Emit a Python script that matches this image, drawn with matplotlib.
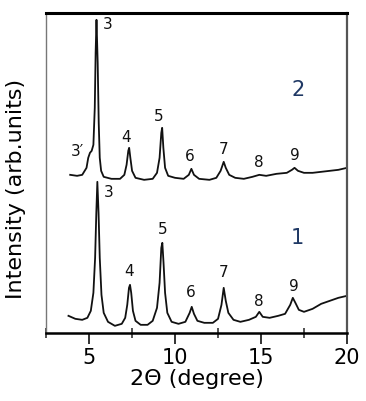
import matplotlib.pyplot as plt
from matplotlib.ticker import MultipleLocator

# sample 1 (lower trace): 2theta (deg) and intensity (arb. units)
x_1 = [3.8, 4.2, 4.6, 4.9, 5.1, 5.25, 5.35, 5.42, 5.48, 5.55, 5.62, 5.72, 5.85, 6.1,
       6.5, 6.9, 7.1, 7.22, 7.32, 7.38, 7.45, 7.55, 7.7, 8.0, 8.4, 8.7, 8.95, 9.1,
       9.2, 9.26, 9.33, 9.42, 9.55, 9.8, 10.2, 10.6, 10.85, 10.97, 11.1, 11.3, 11.7,
       12.2, 12.5, 12.7, 12.83, 12.95, 13.1, 13.4, 13.8, 14.3, 14.7, 14.9, 15.1,
       15.5, 16.0, 16.4, 16.7, 16.85, 17.0, 17.2, 17.5, 18.0, 18.5, 19.0, 19.5, 20.0]
y_1 = [17, 14, 13, 15, 22, 40, 75, 120, 151, 120, 75, 38, 20, 11,
       7, 9, 15, 28, 45, 48, 40, 22, 12, 8, 8, 12, 25, 50,
       85, 90, 70, 40, 20, 11, 9, 11, 20, 26, 19, 12, 10,
       10, 14, 28, 45, 32, 20, 13, 11, 13, 16, 21, 16,
       15, 17, 19, 28, 35, 30, 23, 21, 24, 29, 32, 35, 37]

# sample 2 (upper trace)
x_2 = [3.9, 4.3, 4.6, 4.85, 4.95, 5.05, 5.15, 5.25, 5.33, 5.38, 5.43, 5.5, 5.56,
       5.62, 5.7, 5.85, 6.3, 6.8, 7.05, 7.18, 7.28, 7.33, 7.4, 7.5, 7.7, 8.2, 8.7,
       8.95, 9.1, 9.2, 9.25, 9.32, 9.42, 9.6, 10.0, 10.5, 10.8, 10.95, 11.1, 11.4,
       12.0, 12.4, 12.65, 12.83, 12.95, 13.15, 13.5, 14.0, 14.5, 14.9, 15.3, 15.9,
       16.5, 16.8, 16.95, 17.15, 17.5, 18.0, 18.5, 19.0, 19.5, 20.0]
y_2 = [158, 157, 158, 165, 175, 180, 182, 188, 225, 280, 313, 270, 210,
       175, 162, 156, 154, 154, 158, 168, 182, 185, 175, 162, 155, 153, 154,
       160, 175, 200, 205, 185, 165, 157, 155, 154, 158, 164, 158, 154,
       153, 155, 162, 171, 165, 158, 155, 154, 156, 158, 157, 159,
       160, 163, 165, 162, 160, 160, 161, 162, 163, 165]

# reflection labels: text, x, y
labels_1 = ['3', '4', '5', '6', '7', '8', '9']
lab_x_1 = [6.15, 7.3, 9.26, 10.9, 12.85, 14.9, 16.9]
lab_y_1 = [140, 61, 103, 40, 60, 31, 46]

labels_2 = ['3', "3\u2032", '4', '5', '6', '7', '8', '9']
lab_x_2 = [6.1, 4.3, 7.15, 9.05, 10.85, 12.85, 14.85, 16.97]
lab_y_2 = [308, 181, 195, 216, 176, 183, 170, 177]

fig = plt.figure(figsize=(3.66, 4.01), dpi=100)
ax = fig.add_axes([0.126, 0.170, 0.822, 0.798])

ax.plot(x_1, y_1, color='#111111', lw=1.3)
ax.plot(x_2, y_2, color='#111111', lw=1.3)

for t, x, y in zip(labels_1, lab_x_1, lab_y_1):
    ax.text(x, y, t, fontsize=11, ha='center', va='center', color='#111111')
for t, x, y in zip(labels_2, lab_x_2, lab_y_2):
    ax.text(x, y, t, fontsize=11, ha='center', va='center', color='#111111')

ax.text(17.15, 243, '2', fontsize=15, color='#1f3864', ha='center', va='center')
ax.text(17.1, 95, '1', fontsize=15, color='#1f3864', ha='center', va='center')

ax.set_xlim(2.5, 20)
ax.set_ylim(0, 320)
ax.xaxis.set_major_locator(MultipleLocator(5))
ax.xaxis.set_minor_locator(MultipleLocator(2.5))
ax.set_yticks([])
ax.tick_params(axis='x', which='major', direction='out', length=8, width=1.4,
               color='#333333', labelsize=15, pad=3)
ax.tick_params(axis='x', which='minor', direction='inout', length=7, width=1.2,
               color='#333333')

ax.spines['top'].set_linewidth(2.2)
ax.spines['bottom'].set_linewidth(1.8)
ax.spines['left'].set_linewidth(1.0)
ax.spines['left'].set_color('#777777')
ax.spines['right'].set_linewidth(1.6)
ax.spines['right'].set_color('#555555')

ax.set_xlabel('2\u0398 (degree)', fontsize=16, labelpad=1)
ax.set_ylabel('Intensity (arb.units)', fontsize=16)
ax.yaxis.set_label_coords(-0.066, 0.45)

fig.savefig('out.png', dpi=100)
